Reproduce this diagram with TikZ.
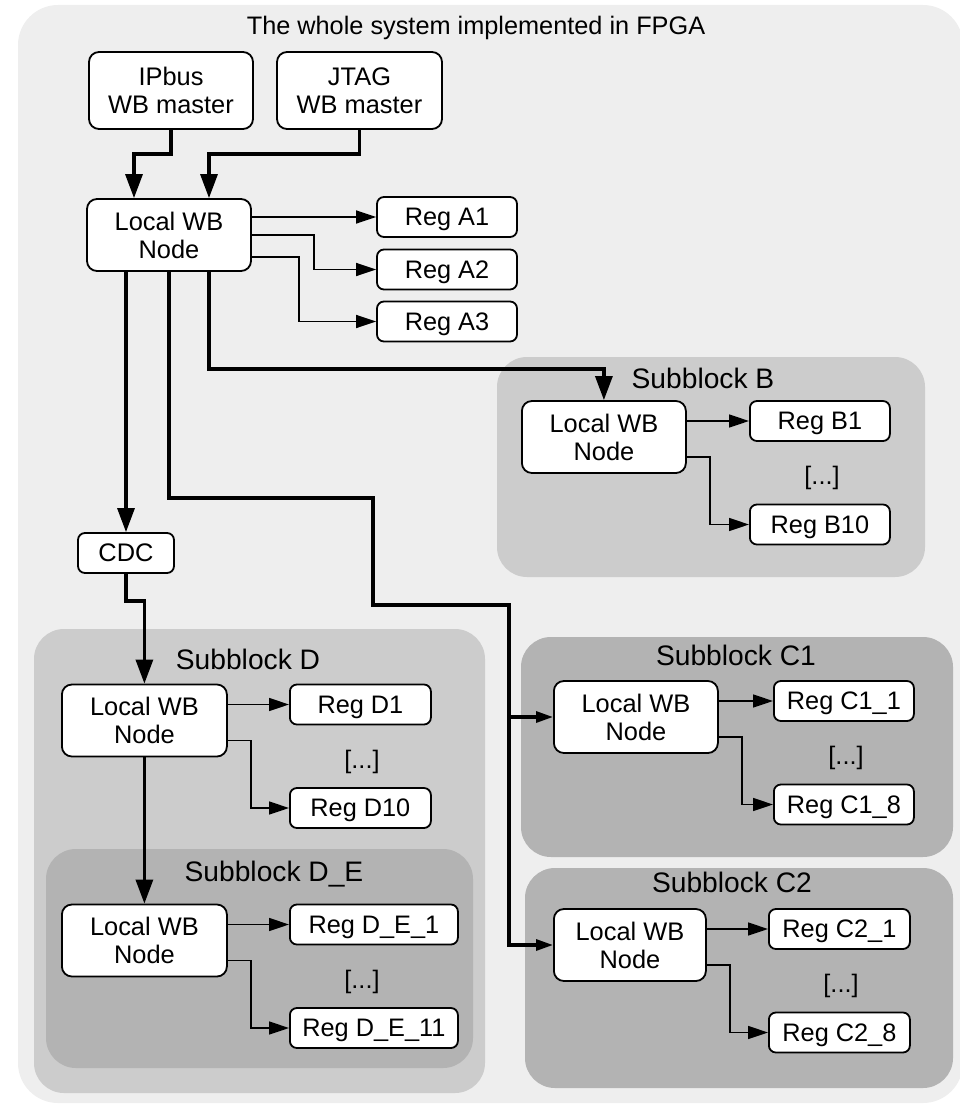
\documentclass[tikz,border=0pt]{standalone}
\usepackage{fontspec}
\setmainfont{Liberation Sans}
\usetikzlibrary{arrows.meta,positioning,calc}
\definecolor{fpgagray}{RGB}{238,238,238}
\definecolor{blkgray}{RGB}{204,204,204}
\definecolor{subgray}{RGB}{179,179,179}
\tikzset{
  wbnode/.style={draw, line width=1.8pt, fill=white, rounded corners=10pt, align=center,
    minimum height=72pt, inner sep=0pt, font=\fontsize{25.4}{28}\selectfont},
  regbox/.style={draw, line width=1.8pt, fill=white, rounded corners=7pt, text depth=0pt,
    minimum height=40pt, inner sep=0pt, font=\fontsize{25.3}{28}\selectfont},
  blktitle/.style={anchor=base, font=\fontsize{28.2}{30}\selectfont},
  bus/.style={line width=3.2pt, -{Triangle[length=24pt,width=17pt]}},
  cbus/.style={line width=3.2pt, -{Triangle[length=17pt,width=11pt]}},
  lnk/.style={line width=1.6pt, -{Triangle[length=20pt,width=13pt]}},
}

\begin{document}
\begin{tikzpicture}[x=1pt, y=-1pt]
  \useasboundingbox (0,0) rectangle (960,1105);
  % grey areas
  \fill[fpgagray, rounded corners=40pt] (18,5) rectangle (963,1103);
  \fill[blkgray, rounded corners=30pt] (497,357) rectangle (925,577);
  \fill[blkgray, rounded corners=30pt] (34,629) rectangle (485,1093);
  \fill[subgray, rounded corners=30pt] (46,849) rectangle (473,1068);
  \fill[subgray, rounded corners=30pt] (521,637) rectangle (953,857);
  \fill[subgray, rounded corners=30pt] (525,868) rectangle (953,1088);

  \node[anchor=base, font=\fontsize{25.3}{28}\selectfont] (ttl) at (476,35) {The whole system implemented in FPGA};
  \foreach \nm/\x/\y/\lab in {tB/703/388/B, tD/248/669/D, tDE/274/881/D\_E, tC1/736/665/C1, tC2/732/892/C2}
    \node[blktitle] (\nm) at (\x,\y) {Subblock \lab};

  % masters and top level node
  \node[wbnode, minimum width=164pt, minimum height=77pt] (ipbus) at (171,90.5) {IPbus\\WB master};
  \node[wbnode, minimum width=165pt, minimum height=77pt] (jtag) at (359.5,90.5) {JTAG\\WB master};
  \node[wbnode, minimum width=164pt] (wbtop) at (169,235) {Local WB\\Node};
  \foreach \i/\y in {1/217, 2/269.5, 3/321.5}
    \node[regbox, minimum width=140pt] (regA\i) at (447,\y) {Reg A\i};
  \node[wbnode, minimum width=96pt, minimum height=40pt, rounded corners=7pt] (cdc) at (126,553) {CDC};

  % subblocks
  \foreach \blk/\x/\y/\nw/\gap/\rw/\first/\last in {
      B/521/437/164/64/140/B1/B10, D/61/720.5/165/63/141/D1/D10,
      DE/61/940.5/165/63/168/D\_E\_1/D\_E\_11, C1/553/717/164/56/140/C1\_1/C1\_8,
      C2/553/945/152/63/141/C2\_1/C2\_8}{
    \node[wbnode, anchor=west, minimum width=\nw pt] (wb\blk) at (\x,\y) {Local WB\\Node};
    \node[regbox, anchor=west, minimum width=\rw pt] (ra\blk) at (\x+\nw+\gap,\y-16) {Reg \first};
    \node[regbox, anchor=west, minimum width=\rw pt] (rz\blk) at (\x+\nw+\gap,\y+87.5) {Reg \last};
    \node[font=\fontsize{25.3}{28}\selectfont] (dots\blk) at (\x+\nw+\gap+73,\y+41) {[...]};
    \draw[lnk] (wb\blk.east |- ra\blk) -- (ra\blk);
    \draw[lnk] ([yshift=-20pt]wb\blk.east) -- ++(23,0) |- (rz\blk);
  }

  % buses
  \draw[bus] (ipbus.south) -- ++(0,24) -| ([xshift=-35pt]wbtop.north);
  \draw[bus] (jtag.south) -- ++(0,24) -| ([xshift=40pt]wbtop.north);
  \draw[lnk] (wbtop.east |- regA1) -- (regA1);
  \draw[lnk] (wbtop.east) -- ++(62,0) |- (regA2);
  \draw[lnk] ([yshift=-22pt]wbtop.east) -- ++(47,0) |- (regA3);
  \draw[bus] (wbtop.south -| cdc.north) -- (cdc.north);
  \draw[bus] ([xshift=40pt]wbtop.south) -- ++(0,97) -| (wbB.north);
  \draw[bus] (cdc.south) -- ++(0,27) -| (wbD.north);
  \draw[bus] (wbD.south) -- (wbDE.north);
  \coordinate (cjoin) at (509,605);
  \draw[cbus] (wbtop.south) -- ++(0,226) -- ++(204,0) |- (cjoin) |- (wbC2.west);
  \draw[cbus] (wbC1.west -| cjoin) -- (wbC1.west);
\end{tikzpicture}
\end{document}
